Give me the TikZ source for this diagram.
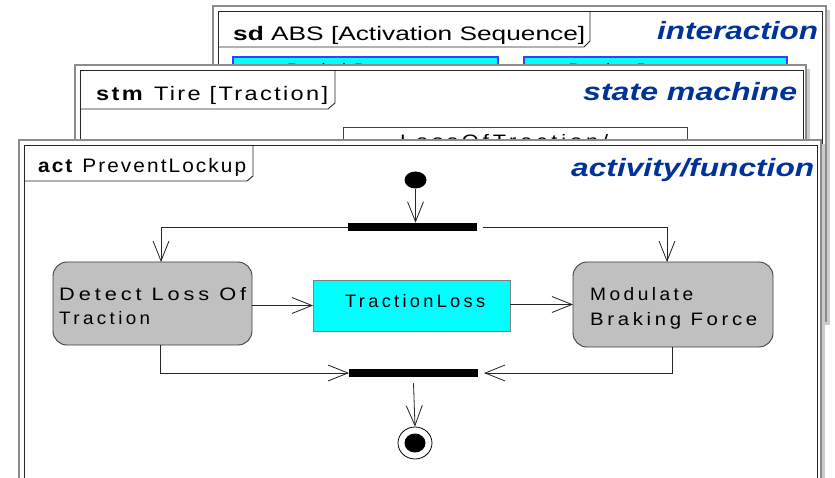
\documentclass[tikz,border=0pt]{standalone}
\usepackage{fontspec}
\usepackage{graphicx}
\setmainfont{Liberation Sans}
\newfontfamily\spacedfont[LetterSpace=18]{Liberation Sans}
\newfontfamily\tabfont[LetterSpace=10]{Liberation Sans}
\usetikzlibrary{arrows.meta,shapes.geometric}
\definecolor{titleblue}{RGB}{0,51,153}
\definecolor{actgray}{RGB}{192,192,192}
\definecolor{sigcyan}{RGB}{0,255,255}
\definecolor{lifeblue}{RGB}{60,60,255}
% stretch a text horizontally to a given width, keeping its height
\newcommand\fitw[2]{\resizebox{#1pt}{\height}{#2}}

\begin{document}
\begin{tikzpicture}[x=1pt,y=-1pt,
  paper/.style={fill=white,draw=black!45,line width=1.4pt},
  shadow/.style={fill=black!20},
  frameline/.style={draw=black!85,line width=0.9pt},
  title/.style={font=\fontsize{25}{30}\selectfont\bfseries\itshape,text=titleblue,inner sep=0pt,anchor=base west},
  tabtext/.style={font=\fontsize{19.5}{23}\selectfont,inner sep=0pt,anchor=base west},
  spacedtab/.style={tabtext,font=\tabfont\fontsize{19.5}{23}\selectfont},
  lbl/.style={font=\spacedfont\fontsize{18}{22}\selectfont,inner sep=0pt,anchor=base west},
  action/.style={draw=black!75,fill=actgray,rounded corners=14pt,line width=0.9pt,inner sep=0pt,outer sep=0pt},
  signal/.style={draw=black!50,fill=sigcyan,line width=0.8pt,inner sep=0pt,outer sep=0pt},
  lifeline/.style={draw=lifeblue,fill=sigcyan,line width=1.4pt},
  bar/.style={fill=black,inner sep=0pt,outer sep=0pt,minimum width=129pt,minimum height=8.5pt},
  flow/.style={draw=black!85,line width=0.8pt,-{Straight Barb[length=20pt,width=16pt,line width=0.8pt]}}
]
\clip (0,0) rectangle (835,478);
\fill[white] (0,0) rectangle (835,478);

% ---------- sequence diagram sheet (back) ----------
\fill[shadow] (217,10) rectangle (830,325);
\draw[paper] (213,6) rectangle (826,321);
\draw[frameline] (218,11) rectangle (822,317);
\draw[frameline] (218,47) -- (584,47) -- (590,41) -- (590,11);
\node[tabtext] (sdtab) at (233,41) {\fitw{352}{\textbf{sd} ABS [Activation Sequence]}};
\node[title] (sdtitle) at (657,40) {\fitw{161}{interaction}};
\draw[lifeline] (233,57) rectangle (498,130);
\draw[lifeline] (524,57) rectangle (787,130);
\node[lbl,anchor=base] (lifeA) at (366,77) {Pedal Detector};
\node[lbl,anchor=base] (lifeB) at (648,77) {Brake Detector};

% ---------- state machine sheet (middle) ----------
\fill[shadow] (79,69) rectangle (810,470);
\draw[paper] (75,65) rectangle (806,470);
\draw[frameline] (80,70) rectangle (803,470);
\draw[frameline] (80,109) -- (328,109) -- (335,103) -- (335,70);
\node[spacedtab] (stmtab) at (96,101) {\fitw{232}{\textbf{stm} Tire [Traction]}};
\node[title] (stmtitle) at (583,101) {\fitw{214}{state machine}};
\draw[draw=black!75,fill=white,line width=0.9pt] (343,127) rectangle (687,220);
\node[lbl] (trans) at (400,148) {\fitw{208}{LossOfTraction/}};

% ---------- activity sheet (front) ----------
\fill[shadow] (23,144) rectangle (825,495);
\draw[paper] (19,140) rectangle (821,490);
\draw[frameline] (24,145) rectangle (817,486);
\draw[frameline] (24,181) -- (247,181) -- (253,176) -- (253,145);
\node[spacedtab] (acttab) at (38,173) {\fitw{208}{\textbf{act} PreventLockup}};
\node[title] (acttitle) at (571,177) {\fitw{243}{activity/function}};

% nodes
\node[ellipse,fill=black,inner sep=0pt,minimum width=22pt,minimum height=17pt] (init) at (415.5,180) {};
\node[bar] (fork) at (412.5,227) {};
\node[action,minimum width=199pt,minimum height=83pt] (detect) at (152.5,303.5) {};
\node[signal,minimum width=197pt,minimum height=51pt] (tl) at (411.5,305.5) {};
\node[action,minimum width=200pt,minimum height=85pt] (mod) at (673,304.5) {};
\node[bar] (join) at (413.5,373) {};
\node[ellipse,draw=black,line width=0.8pt,fill=white,inner sep=0pt,minimum width=34pt,minimum height=32pt] (final) at (415,443) {};
\node[ellipse,fill=black,inner sep=0pt,minimum width=21pt,minimum height=19pt] (finaldot) at (final.center) {};

% labels
\node[lbl] (detectA) at (59,301) {\fitw{187}{Detect Loss Of}};
\node[lbl] (detectB) at (59,324) {\fitw{91}{Traction}};
\node[lbl] (tlText) at (345,307) {\fitw{140}{TractionLoss}};
\node[lbl] (modA) at (590,301) {\fitw{103}{Modulate}};
\node[lbl] (modB) at (590,325) {\fitw{167}{Braking Force}};

% control flows
\draw[flow] (init.south) -- (init.south |- fork.north);
\draw[flow] (fork.west) -| ([xshift=8.5pt]detect.north);
\draw[flow] ([xshift=6pt]fork.east) -| ([xshift=-6pt]mod.north);
\draw[flow] (tl.west -| detect.east) -- (tl.west);
\draw[flow] ([yshift=1pt]tl.east) -- ([yshift=1pt]tl.east -| mod.west);
\draw[flow] ([xshift=8pt]detect.south) |- (join.west);
\draw[flow] ([xshift=-1pt]mod.south) |- ([xshift=6pt]join.east);
\draw[flow] ([yshift=-6pt]join.south) -- (final.north);
\end{tikzpicture}
\end{document}
